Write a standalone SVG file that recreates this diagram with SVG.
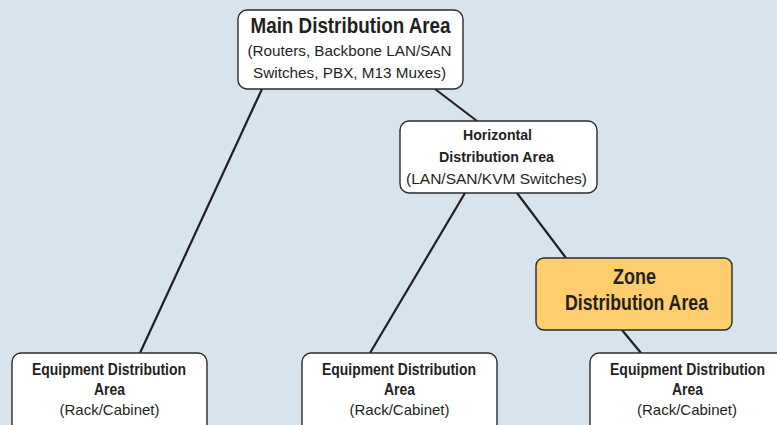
<svg xmlns="http://www.w3.org/2000/svg" width="777" height="425" viewBox="0 0 777 425">
<style>
.box{fill:#ffffff;stroke:#2b2b2b;stroke-width:1.4}
.zone{fill:#fdcd6e;stroke:#2b2b2b;stroke-width:1.4}
.b{font-family:"Liberation Sans",Arial,sans-serif;font-weight:bold;fill:#231f20;text-anchor:middle}
.r{font-family:"Liberation Sans",Arial,sans-serif;fill:#231f20;text-anchor:middle}
.ln{stroke:#231f20;stroke-width:2.2;fill:none}
</style>
<rect x="0" y="0" width="777" height="425" fill="#d7e3ed"/>
<g id="connectors">
<line class="ln" x1="262" y1="89" x2="140" y2="353"/>
<line class="ln" x1="435" y1="89" x2="477" y2="121"/>
<line class="ln" x1="465" y1="193" x2="370" y2="353"/>
<line class="ln" x1="517" y1="193" x2="566" y2="258"/>
<line class="ln" x1="622" y1="330" x2="641" y2="353"/>
</g>
<g id="main">
<rect class="box" x="238" y="10" width="225" height="79" rx="9"/>
<text class="b" x="350.5" y="33" font-size="22" textLength="200" lengthAdjust="spacingAndGlyphs">Main Distribution Area</text>
<text class="r" x="349.5" y="56" font-size="15" textLength="204" lengthAdjust="spacingAndGlyphs">(Routers, Backbone LAN/SAN</text>
<text class="r" x="349.5" y="78" font-size="15" textLength="193" lengthAdjust="spacingAndGlyphs">Switches, PBX, M13 Muxes)</text>
</g>
<g id="horizontal">
<rect class="box" x="400" y="121" width="197" height="72" rx="9"/>
<text class="b" x="497.5" y="140" font-size="15.5" textLength="69" lengthAdjust="spacingAndGlyphs">Horizontal</text>
<text class="b" x="496.5" y="162" font-size="15.5" textLength="115" lengthAdjust="spacingAndGlyphs">Distribution Area</text>
<text class="r" x="496.5" y="184" font-size="15" textLength="181" lengthAdjust="spacingAndGlyphs">(LAN/SAN/KVM Switches)</text>
</g>
<g id="zone">
<rect class="zone" x="536" y="258" width="196" height="72" rx="8"/>
<text class="b" x="634.5" y="284" font-size="22" textLength="43" lengthAdjust="spacingAndGlyphs">Zone</text>
<text class="b" x="636.5" y="310" font-size="22" textLength="143" lengthAdjust="spacingAndGlyphs">Distribution Area</text>
</g>
<g id="eda-left">
<rect class="box" x="12" y="353" width="195" height="85" rx="9"/>
<text class="b" x="109" y="375" font-size="16" textLength="154" lengthAdjust="spacingAndGlyphs">Equipment Distribution</text>
<text class="b" x="109.5" y="395" font-size="16" textLength="31" lengthAdjust="spacingAndGlyphs">Area</text>
<text class="r" x="109.5" y="415" font-size="15" textLength="100" lengthAdjust="spacingAndGlyphs">(Rack/Cabinet)</text>
</g>
<g id="eda-middle">
<rect class="box" x="302" y="353" width="195" height="85" rx="9"/>
<text class="b" x="399" y="375" font-size="16" textLength="154" lengthAdjust="spacingAndGlyphs">Equipment Distribution</text>
<text class="b" x="399.5" y="395" font-size="16" textLength="31" lengthAdjust="spacingAndGlyphs">Area</text>
<text class="r" x="399.5" y="415" font-size="15" textLength="100" lengthAdjust="spacingAndGlyphs">(Rack/Cabinet)</text>
</g>
<g id="eda-right">
<rect class="box" x="590" y="353" width="195" height="85" rx="9"/>
<text class="b" x="687.5" y="375" font-size="16" textLength="155" lengthAdjust="spacingAndGlyphs">Equipment Distribution</text>
<text class="b" x="687.5" y="395" font-size="16" textLength="31" lengthAdjust="spacingAndGlyphs">Area</text>
<text class="r" x="687" y="415" font-size="15" textLength="100" lengthAdjust="spacingAndGlyphs">(Rack/Cabinet)</text>
</g>
</svg>
